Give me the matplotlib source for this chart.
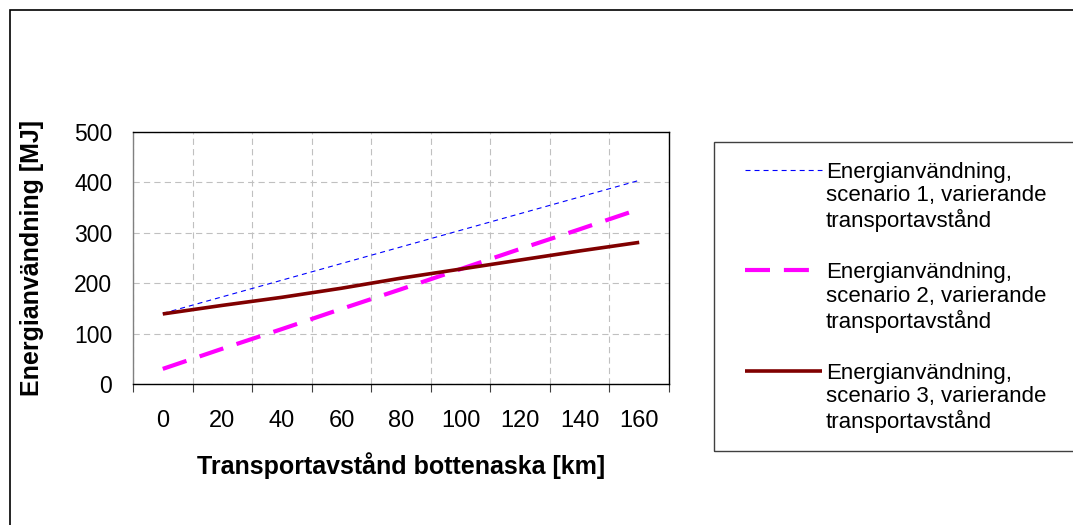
import matplotlib
matplotlib.use("Agg")
import matplotlib.pyplot as plt
from matplotlib.patches import Rectangle

# transport distance categories [km]
distances = [0, 20, 40, 60, 80, 100, 120, 140, 160]

# energy use [MJ] per scenario
scenario1 = [140, 173, 206, 239, 272, 305, 338, 371, 404]
scenario2 = [30, 70, 109, 149, 188, 228, 268, 307, 347]
scenario3 = [139, 156, 172, 190, 210, 228, 246, 264, 281]

labels = [
    "Energianvändning,\nscenario 1, varierande\ntransportavstånd",
    "Energianvändning,\nscenario 2, varierande\ntransportavstånd",
    "Energianvändning,\nscenario 3, varierande\ntransportavstånd",
]

plt.rcParams["font.family"] = ["Liberation Sans", "DejaVu Sans"]
plt.rcParams["lines.scale_dashes"] = False

W, H = 1073, 525
fig = plt.figure(figsize=(W / 100, H / 100), dpi=100)

# plot area in pixels: left 133, top 132, right 669, bottom 384
ax = fig.add_axes([133 / W, (H - 384) / H, 536 / W, 252 / H])

pos = list(range(len(distances)))
l1, = ax.plot(pos, scenario1, color="#0000FF", lw=0.8, dashes=(3.6, 2.9))
l2, = ax.plot(pos, scenario2, color="#FF00FF", lw=3.0, dashes=(18, 10))
l3, = ax.plot(pos, scenario3, color="#800000", lw=2.6, solid_capstyle="butt")

ax.set_xlim(-0.5, len(distances) - 0.5)
ax.set_ylim(0, 500)
ax.set_yticks([0, 100, 200, 300, 400, 500])

# category boundaries as major ticks, labels centred in categories
ax.set_xticks([p - 0.5 for p in pos] + [len(distances) - 0.5])
ax.set_xticklabels([])
ax.set_xticks(pos, minor=True)
ax.set_xticklabels([str(d) for d in distances], minor=True, fontsize=17)
ax.tick_params(axis="x", which="major", length=5.8, width=0.8, color="#404040", direction="out")
ax.tick_params(axis="x", which="minor", length=0, pad=19)
ax.tick_params(axis="y", length=0, pad=15, labelsize=16.5)

ax.grid(True, which="major", color="#c0c0c0", lw=0.8, linestyle=(0, (4.5, 3)))
ax.set_axisbelow(True)

for s in ["top", "right", "bottom"]:
    ax.spines[s].set_color("black")
    ax.spines[s].set_linewidth(1.0)
ax.spines["left"].set_color("#808080")
ax.spines["left"].set_linewidth(1.0)

ax.set_xlabel("Transportavstånd bottenaska [km]", fontsize=18, fontweight="bold")
ax.xaxis.set_label_coords(0.5, -0.272)
ax.set_ylabel("Energianvändning [MJ]", fontsize=18, fontweight="bold")
ax.yaxis.set_label_coords(-0.166, 0.5)

# outer chart border and legend box
fig.add_artist(Rectangle((9.5 / W, -0.02), 1.1, (H - 10) / H + 0.02,
                         transform=fig.transFigure, fill=False, edgecolor="black", lw=1.2))
fig.add_artist(Rectangle((714 / W, (H - 451) / H), 0.5, 309 / H,
                         transform=fig.transFigure, fill=False, edgecolor="#404040", lw=1.0))

leg = fig.legend([l1, l2, l3], labels, loc="upper left",
                 bbox_to_anchor=(745 / W, (H - 162) / H),
                 frameon=False, fontsize=16, borderpad=0, borderaxespad=0,
                 handlelength=3.47, handletextpad=0.18, labelspacing=1.36)
for t in leg.get_texts():
    t.set_linespacing(1.15)
# put the sample line next to the first text line
for col in leg._legend_handle_box.get_children():
    for row in col.get_children():
        row.align = "top"

fig.savefig("out.png", dpi=100)
